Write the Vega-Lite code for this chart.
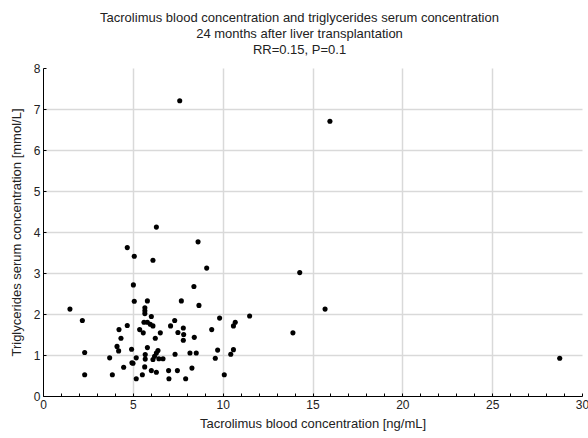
{
  "$schema": "https://vega.github.io/schema/vega-lite/v6.json",
  "autosize": "none",
  "width": 539,
  "height": 328,
  "padding": {"left": 43, "top": 68, "right": 6, "bottom": 42},
  "background": "white",
  "config": {
    "view": {"stroke": null},
    "font": "Liberation Sans",
    "axis": {"labelFont": "Liberation Sans", "titleFont": "Liberation Sans"}
  },
  "title": {
    "text": ["Tacrolimus blood concentration and triglycerides serum concentration", "24 months after liver transplantation", "RR=0.15, P=0.1"],
    "fontSize": 13,
    "fontWeight": "normal",
    "font": "Liberation Sans",
    "color": "#222222",
    "lineHeight": 16.2,
    "anchor": "middle",
    "frame": "group",
    "dx": -13,
    "offset": 5
  },
  "data": {
    "values": [
      {"tac": 7.61, "tg": 7.20}, {"tac": 15.97, "tg": 6.70}, {"tac": 6.31, "tg": 4.12}, {"tac": 8.63, "tg": 3.76},
      {"tac": 4.69, "tg": 3.62}, {"tac": 5.08, "tg": 3.41}, {"tac": 6.12, "tg": 3.31}, {"tac": 9.11, "tg": 3.12},
      {"tac": 14.29, "tg": 3.01}, {"tac": 5.03, "tg": 2.71}, {"tac": 8.40, "tg": 2.67},
      {"tac": 5.08, "tg": 2.31}, {"tac": 5.81, "tg": 2.32}, {"tac": 7.70, "tg": 2.32}, {"tac": 8.68, "tg": 2.21},
      {"tac": 1.50, "tg": 2.12}, {"tac": 15.70, "tg": 2.12}, {"tac": 5.67, "tg": 2.15}, {"tac": 5.67, "tg": 2.08},
      {"tac": 5.67, "tg": 2.01}, {"tac": 6.03, "tg": 1.94}, {"tac": 11.50, "tg": 1.95}, {"tac": 9.83, "tg": 1.90},
      {"tac": 2.19, "tg": 1.84}, {"tac": 7.33, "tg": 1.84}, {"tac": 5.62, "tg": 1.80}, {"tac": 5.81, "tg": 1.80},
      {"tac": 10.70, "tg": 1.80}, {"tac": 5.97, "tg": 1.75}, {"tac": 6.12, "tg": 1.71}, {"tac": 10.60, "tg": 1.71},
      {"tac": 4.69, "tg": 1.72}, {"tac": 7.10, "tg": 1.71}, {"tac": 7.81, "tg": 1.66}, {"tac": 4.23, "tg": 1.62},
      {"tac": 5.38, "tg": 1.62}, {"tac": 9.39, "tg": 1.62}, {"tac": 13.91, "tg": 1.54}, {"tac": 5.58, "tg": 1.54},
      {"tac": 6.53, "tg": 1.54}, {"tac": 7.51, "tg": 1.55}, {"tac": 7.83, "tg": 1.50}, {"tac": 6.25, "tg": 1.41},
      {"tac": 4.34, "tg": 1.41}, {"tac": 8.42, "tg": 1.43}, {"tac": 7.81, "tg": 1.36},
      {"tac": 4.12, "tg": 1.21}, {"tac": 4.21, "tg": 1.10}, {"tac": 4.93, "tg": 1.14}, {"tac": 5.81, "tg": 1.18},
      {"tac": 6.40, "tg": 1.11}, {"tac": 6.31, "tg": 1.05}, {"tac": 6.21, "tg": 0.97}, {"tac": 5.69, "tg": 1.01},
      {"tac": 5.69, "tg": 0.90}, {"tac": 6.45, "tg": 0.91}, {"tac": 6.68, "tg": 0.91}, {"tac": 6.12, "tg": 0.89},
      {"tac": 7.35, "tg": 1.02}, {"tac": 8.18, "tg": 1.05}, {"tac": 8.53, "tg": 1.05}, {"tac": 9.72, "tg": 1.12},
      {"tac": 10.60, "tg": 1.13}, {"tac": 10.45, "tg": 1.02}, {"tac": 9.59, "tg": 0.92}, {"tac": 2.32, "tg": 1.06},
      {"tac": 3.71, "tg": 0.93}, {"tac": 5.19, "tg": 0.93}, {"tac": 5.01, "tg": 0.80}, {"tac": 4.95, "tg": 0.81},
      {"tac": 4.49, "tg": 0.70}, {"tac": 5.66, "tg": 0.71}, {"tac": 6.03, "tg": 0.62}, {"tac": 6.31, "tg": 0.58},
      {"tac": 6.99, "tg": 0.62}, {"tac": 7.48, "tg": 0.62}, {"tac": 8.29, "tg": 0.68}, {"tac": 3.86, "tg": 0.52},
      {"tac": 2.32, "tg": 0.52}, {"tac": 5.53, "tg": 0.52}, {"tac": 5.19, "tg": 0.42}, {"tac": 7.01, "tg": 0.42},
      {"tac": 7.94, "tg": 0.42}, {"tac": 10.09, "tg": 0.52}, {"tac": 28.76, "tg": 0.92}
    ]
  },
  "mark": {"type": "point", "filled": true, "shape": "circle", "size": 26, "color": "#000000", "opacity": 1},
  "encoding": {
    "x": {
      "field": "tac", "type": "quantitative",
      "scale": {"domain": [0, 30], "nice": false, "zero": false},
      "axis": {
        "title": "Tacrolimus blood concentration [ng/mL]",
        "titleFontSize": 13, "titleFontWeight": "normal", "titleColor": "#222222", "titlePadding": 7,
        "values": [0,1,2,3,4,5,6,7,8,9,10,11,12,13,14,15,16,17,18,19,20,21,22,23,24,25,26,27,28,29,30],
        "format": "d",
        "labelExpr": "datum.value % 5 === 0 ? datum.label : ''",
        "labelFontSize": 12, "labelColor": "#222222", "labelPadding": 6, "labelFlush": false,
        "tickSize": -3, "tickColor": "#000000",
        "domainColor": "#000000", "domainWidth": 1,
        "grid": true, "gridColor": "#d9d9d9", "gridWidth": 1.5,
        "gridOpacity": {"condition": {"test": "datum.value % 5 !== 0 || datum.value === 0 || datum.value === 30", "value": 0}, "value": 1}
      }
    },
    "y": {
      "field": "tg", "type": "quantitative",
      "scale": {"domain": [0, 8], "nice": false, "zero": true},
      "axis": {
        "title": "Triglycerides serum concentration [mmol/L]",
        "titleFontSize": 13, "titleFontWeight": "normal", "titleColor": "#222222", "titlePadding": 10,
        "values": [0,0.5,1,1.5,2,2.5,3,3.5,4,4.5,5,5.5,6,6.5,7,7.5,8],
        "format": "d",
        "labelExpr": "datum.value % 1 === 0 ? datum.label : ''",
        "labelFontSize": 12, "labelColor": "#222222", "labelPadding": 6, "labelFlush": false,
        "tickSize": -3, "tickColor": "#000000",
        "domainColor": "#000000", "domainWidth": 1,
        "grid": true, "gridColor": "#d9d9d9", "gridWidth": 1.5,
        "gridOpacity": {"condition": {"test": "datum.value % 1 !== 0 || datum.value === 0 || datum.value === 8", "value": 0}, "value": 1}
      }
    }
  }
}
